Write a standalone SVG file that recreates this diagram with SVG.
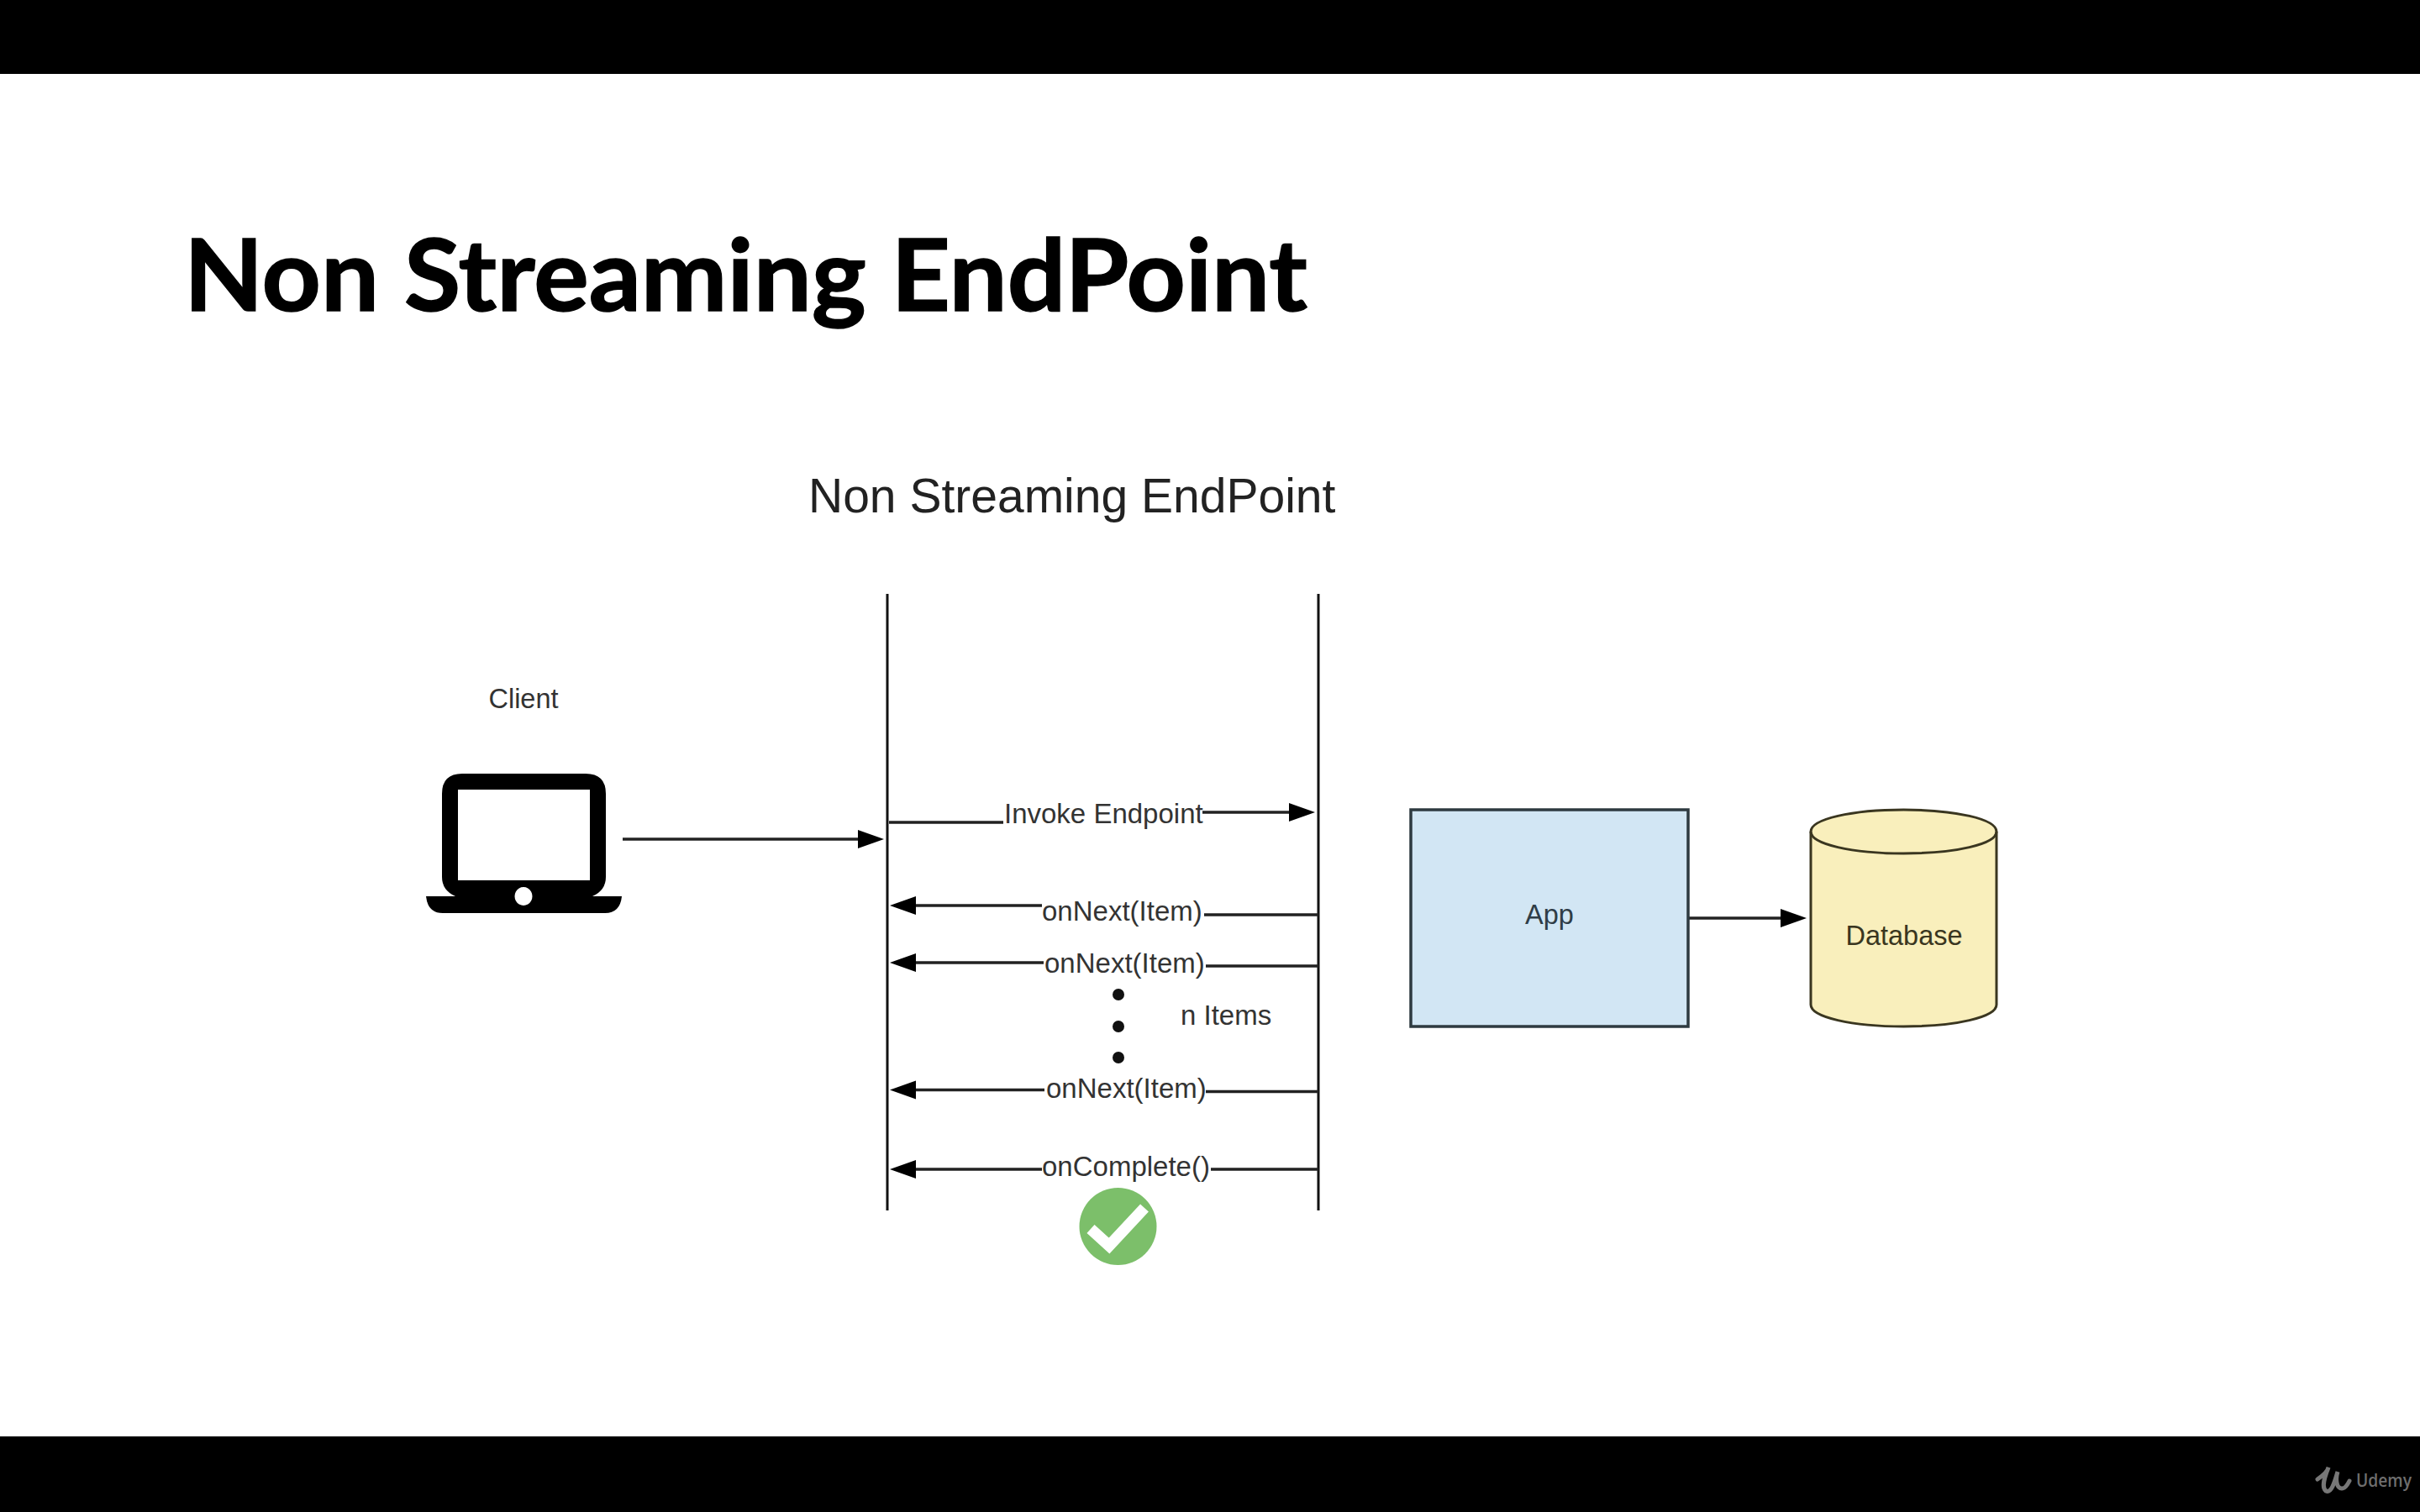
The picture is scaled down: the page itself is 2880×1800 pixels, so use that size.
<svg xmlns="http://www.w3.org/2000/svg" width="2880" height="1800" viewBox="0 0 2880 1800">
<defs>
<style>
.lbl{font-family:"Liberation Sans",Arial,sans-serif;font-size:33px;fill:#333}
.ctr{text-anchor:middle}
.conn{fill:none;stroke:#222;stroke-width:3.5}
.life{fill:none;stroke:#111;stroke-width:3}
</style>
<marker id="head" markerUnits="userSpaceOnUse" markerWidth="33" markerHeight="24" viewBox="0 0 33 24" refX="1" refY="12" orient="auto">
<path d="M1,1 L32,12 L1,23 Z" fill="#000"/>
</marker>
</defs>
<rect x="0" y="0" width="2880" height="1800" fill="#fff"/>
<rect id="bar-top" x="0" y="0" width="2880" height="88" fill="#000"/>
<rect id="bar-bottom" x="0" y="1710" width="2880" height="90" fill="#000"/>
<g id="watermark">
<path d="M2758,1761 C2764,1757 2770,1752 2771,1747 C2767,1757 2762,1770 2768,1775 C2775,1778 2779,1762 2782,1752 C2779,1762 2781,1772 2787,1772 C2791,1772 2794,1767 2796,1763" fill="none" stroke="#777" stroke-width="5" stroke-linecap="round"/>
<text x="2804" y="1770" font-family="'Open Sans',sans-serif" font-size="21" font-weight="600" fill="#6e6e6e" textLength="66" lengthAdjust="spacingAndGlyphs">Udemy</text>
</g>
<text id="title" x="219" y="370" font-family="Lato,'Open Sans',sans-serif" font-size="119" font-weight="700" fill="#000" stroke="#000" stroke-width="1.500" textLength="1337" lengthAdjust="spacingAndGlyphs">Non Streaming EndPoint</text>
<text id="subtitle" x="962" y="610" font-family="'Liberation Sans',Arial,sans-serif" font-size="57" fill="#222">Non Streaming EndPoint</text>
<g id="client">
<text class="lbl ctr" x="623" y="843" style="font-size:32.5px">Client</text>
<path fill-rule="evenodd" fill="#000" d="M550,921 H697 Q721,921 721,945 V1044 Q721,1060 705,1067 H740 Q738,1087 720,1087 H527 Q509,1087 507,1067 H542 Q526,1060 526,1044 V945 Q526,921 550,921 Z M545,940 V1048 H702 V940 Z M623,1056 a10.500,11 0 1 0 0.010,0 Z"/>
</g>
<g id="lifeline-left"><line class="life" x1="1056" y1="707" x2="1056" y2="1441"/></g>
<g id="lifeline-right"><line class="life" x1="1569" y1="707" x2="1569" y2="1441"/></g>
<g id="connectors">
<path class="conn" d="M741,999 H1021" marker-end="url(#head)"/>
<path class="conn" d="M1058,979 H1194"/>
<path class="conn" d="M1431,967 H1534" marker-end="url(#head)"/>
<path class="conn" d="M1240,1078 H1090" marker-end="url(#head)"/>
<path class="conn" d="M1569,1089 H1433"/>
<path class="conn" d="M1242,1146 H1090" marker-end="url(#head)"/>
<path class="conn" d="M1569,1150 H1435"/>
<path class="conn" d="M1243,1297.500 H1090" marker-end="url(#head)"/>
<path class="conn" d="M1569,1299.500 H1435"/>
<path class="conn" d="M1240,1392 H1090" marker-end="url(#head)"/>
<path class="conn" d="M1569,1392 H1441"/>
<path class="conn" d="M2009,1093 H2119" marker-end="url(#head)"/>
</g>
<g id="messages">
<text class="lbl" x="1195" y="980">Invoke Endpoint</text>
<text class="lbl" x="1240" y="1096">onNext(Item)</text>
<text class="lbl" x="1243" y="1158">onNext(Item)</text>
<text class="lbl" x="1245" y="1307">onNext(Item)</text>
<text class="lbl" x="1240" y="1400">onComplete()</text>
</g>
<g id="n-items">
<circle cx="1331" cy="1184" r="7" fill="#111"/>
<circle cx="1331" cy="1222" r="7" fill="#111"/>
<circle cx="1331" cy="1259" r="7" fill="#111"/>
<text class="lbl" x="1405" y="1220">n Items</text>
</g>
<g id="complete-check">
<circle cx="1330.500" cy="1460" r="46" fill="#7cbf6a"/>
<path d="M1298,1463 L1320,1483 L1362,1438" fill="none" stroke="#fff" stroke-width="13.500"/>
</g>
<g id="app">
<rect x="1679" y="964" width="330" height="258" fill="#d2e6f4" stroke="#2e3a40" stroke-width="3.500"/>
<text class="lbl ctr" x="1844" y="1100" style="font-size:32.5px;fill:#2f3d47">App</text>
</g>
<g id="database">
<path d="M2155,990 V1196 C2155,1211 2204,1222 2265.500,1222 C2327,1222 2376,1211 2376,1196 V990 C2376,975 2327,964 2265.500,964 C2204,964 2155,975 2155,990 Z" fill="#f9efbc" stroke="#3a3620" stroke-width="3"/>
<path d="M2155,990 C2155,1005 2204,1016 2265.500,1016 C2327,1016 2376,1005 2376,990" fill="none" stroke="#3a3620" stroke-width="3"/>
<text class="lbl ctr" x="2266" y="1125" style="font-size:32.5px;fill:#3a3620">Database</text>
</g>
</svg>
